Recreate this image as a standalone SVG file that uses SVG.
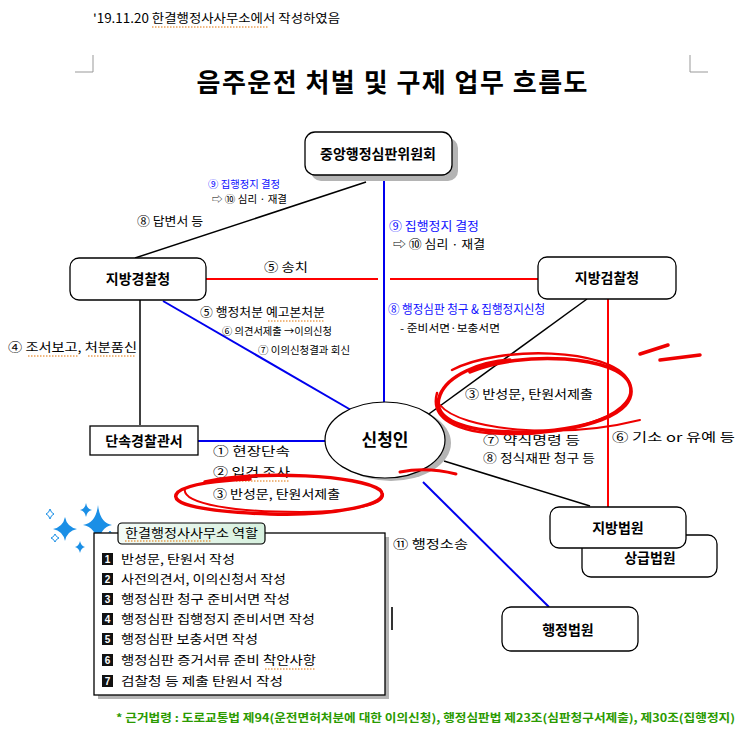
<svg xmlns="http://www.w3.org/2000/svg" width="744" height="744" viewBox="0 0 744 744">
<style>
text{font-family:"Noto Sans CJK KR","Noto Sans",sans-serif;fill:#000}
.t13{font-size:12.5px}
.t12{font-size:12px}
.t11{font-size:10.5px}
.nb{font-size:14px;font-weight:bold;text-anchor:middle}
.blue{fill:#1010ff}
.box{fill:#fff;stroke:#000;stroke-width:1.3}
.shadow{fill:#b4b4b4}
.bl{stroke:#0000ee;stroke-width:2;fill:none}
.rd{stroke:#ff0000;stroke-width:2;fill:none}
.bk{stroke:#000;stroke-width:1.5;fill:none}
.scr{stroke:#ee0000;fill:none;stroke-linecap:round}
.sq{stroke:#e07000;stroke-width:1;stroke-dasharray:1.5 1.5;fill:none}
.star{fill:#1a8fe6}
.num{fill:#111}
.numt{font-size:10px;fill:#fff;font-family:"Liberation Sans",sans-serif;font-weight:bold;text-anchor:middle}
</style>
<rect width="744" height="744" fill="#fff"/>

<!-- header -->
<text x="93" y="23" class="t13" textLength="247" lengthAdjust="spacingAndGlyphs">'19.11.20 한결행정사사무소에서 작성하였음</text>
<path class="sq" d="M152 27 H268"/>
<path d="M93 55 V72 H75 M690 55 V72 H708" stroke="#999" stroke-width="1" fill="none"/>

<text x="392" y="92" style="font-size:26px;font-weight:bold;text-anchor:middle" textLength="391" lengthAdjust="spacing">음주운전 처벌 및 구제 업무 흐름도</text>

<!-- connectors -->
<g id="connectors">
  <line class="bl" x1="384" y1="176" x2="384" y2="403"/>
  <line class="rd" x1="206" y1="279" x2="378" y2="279"/>
  <line class="rd" x1="390" y1="279" x2="538" y2="279"/>
  <line class="bk" x1="366" y1="182" x2="135" y2="258" stroke-width="1.2"/>
  <line class="bk" x1="140" y1="300" x2="140" y2="425" stroke-width="1.2"/>
  <line class="bl" x1="163" y1="301" x2="351" y2="410"/>
  <line class="bl" x1="198" y1="441" x2="326" y2="441"/>
  <line class="bk" x1="587" y1="299" x2="422" y2="419"/>
  <line class="rd" x1="608" y1="299" x2="608" y2="507"/>
  <line class="bk" x1="444" y1="461" x2="590" y2="506" stroke-width="1"/>
  <line class="bl" x1="423" y1="482" x2="549" y2="607"/>
</g>

<!-- nodes -->
<g id="node-central">
  <rect class="shadow" x="311" y="138" width="147" height="43" rx="10"/>
  <rect class="box" x="305" y="132" width="147" height="43" rx="10"/>
  <text x="378" y="159" class="nb">중앙행정심판위원회</text>
</g>
<g id="node-police">
  <rect class="box" x="70" y="258" width="136" height="42" rx="9"/>
  <text x="138" y="284" class="nb">지방경찰청</text>
</g>
<g id="node-prosecution">
  <rect class="box" x="538" y="257" width="138" height="42" rx="9"/>
  <text x="607" y="283" class="nb">지방검찰청</text>
</g>
<g id="node-station">
  <rect class="box" x="90" y="426" width="108" height="29"/>
  <text x="144" y="446" class="nb">단속경찰관서</text>
</g>
<g id="node-applicant">
  <ellipse class="shadow" cx="391" cy="443" rx="60" ry="38"/>
  <ellipse cx="385" cy="440" rx="60" ry="38" fill="#fff" stroke="#000" stroke-width="1.2"/>
  <text x="385" y="446" class="nb" style="font-size:17px">신청인</text>
</g>
<g id="node-high-court">
  <rect class="box" x="582" y="535" width="135" height="42" rx="9"/>
  <text x="650" y="563" class="nb">상급법원</text>
</g>
<g id="node-district-court">
  <rect class="box" x="550" y="507" width="136" height="41" rx="9"/>
  <text x="618" y="533" class="nb">지방법원</text>
</g>
<g id="node-admin-court">
  <rect class="box" x="502" y="607" width="136" height="44" rx="9"/>
  <text x="568" y="635" class="nb">행정법원</text>
</g>

<!-- labels -->
<g id="labels">
  <text x="208" y="188" class="t11 blue" textLength="72" lengthAdjust="spacingAndGlyphs">⑨ 집행정지 결정</text>
  <text x="212" y="203" class="t11" textLength="75" lengthAdjust="spacingAndGlyphs">⇨ ⑩ 심리 · 재결</text>
  <text x="137" y="226" class="t13" textLength="66" lengthAdjust="spacingAndGlyphs">⑧ 답변서 등</text>
  <text x="389" y="231" class="t12 blue" textLength="90" lengthAdjust="spacingAndGlyphs">⑨ 집행정지 결정</text>
  <text x="393" y="249" class="t12" textLength="92" lengthAdjust="spacingAndGlyphs">⇨ ⑩ 심리 · 재결</text>
  <text x="264" y="272" class="t13" textLength="44" lengthAdjust="spacingAndGlyphs">⑤ 송치</text>
  <text x="200" y="317" class="t13" textLength="125" lengthAdjust="spacingAndGlyphs">⑤ 행정처분 예고본처분</text>
  <path class="sq" d="M268 321 H325"/>
  <text x="222" y="335" class="t11" textLength="110" lengthAdjust="spacingAndGlyphs">⑥ 의견서제출 →이의신청</text>
  <text x="258" y="354" class="t11" textLength="92" lengthAdjust="spacingAndGlyphs">⑦ 이의신청결과 회신</text>
  <text x="8" y="352" class="t13" textLength="129" lengthAdjust="spacingAndGlyphs">④ 조서보고, 처분품신</text>
  <path class="sq" d="M28 356 H79 M88 356 H136"/>
  <text x="388" y="314" class="t13 blue" textLength="157" lengthAdjust="spacingAndGlyphs">⑧ 행정심판 청구 &amp; 집행정지신청</text>
  <text x="400" y="332" class="t11" textLength="100" lengthAdjust="spacingAndGlyphs">- 준비서면·보충서면</text>
  <text x="465" y="399" class="t13" textLength="128" lengthAdjust="spacingAndGlyphs">③ 반성문, 탄원서제출</text>
  <text x="483" y="445" class="t12" textLength="97" lengthAdjust="spacingAndGlyphs">⑦ 약식명령 등</text>
  <text x="483" y="463" class="t12" textLength="112" lengthAdjust="spacingAndGlyphs">⑧ 정식재판 청구 등</text>
  <text x="612" y="442" class="t13" textLength="123" lengthAdjust="spacingAndGlyphs">⑥ 기소 or 유예 등</text>
  <text x="213" y="456" class="t13" textLength="77" lengthAdjust="spacingAndGlyphs">① 현장단속</text>
  <text x="213" y="477" class="t13" textLength="77" lengthAdjust="spacingAndGlyphs">② 입건 조사</text>
  <path class="sq" d="M236 481 H290"/>
  <text x="213" y="499" class="t13" textLength="127" lengthAdjust="spacingAndGlyphs">③ 반성문, 탄원서제출</text>
  <text x="393" y="549" class="t13" textLength="75" lengthAdjust="spacingAndGlyphs">⑪ 행정소송</text>
</g>

<!-- cursor -->
<line x1="392" y1="607" x2="392" y2="630" stroke="#000" stroke-width="1.6"/>

<!-- red scribbles -->
<g id="scribbles">
  <path class="scr" stroke-width="3.5" d="M470 372 C520 350 620 355 630 385 C640 415 580 432 520 432 C465 432 430 420 440 395 C448 375 480 362 510 360"/>
  <path class="scr" stroke-width="2.5" d="M452 370 C500 345 610 348 628 380 C645 412 575 436 505 434 C455 433 430 418 437 393"/>
  <path class="scr" stroke-width="2" d="M440 405 C460 430 560 440 640 420"/>
  <path class="scr" stroke-width="3" d="M400 472 C420 468 440 470 456 474"/>
  <path class="scr" stroke-width="3.5" d="M640 354 L668 345"/>
  <path class="scr" stroke-width="3.5" d="M660 360 L700 355"/>
  <path class="scr" stroke-width="3.5" d="M205 482 C260 470 360 475 380 490 C395 505 330 516 270 514 C210 512 165 505 178 492 C188 484 220 480 250 479"/>
  <path class="scr" stroke-width="2" d="M185 488 C180 505 240 512 300 512 C350 512 385 505 383 494"/>
</g>

<!-- sparkles -->
<g id="sparkles">
  <path class="star" d="M98 505 Q100 523 112 525 Q100 527 98 545 Q96 527 83 525 Q96 523 98 505Z"/>
  <path class="star" d="M65 517 Q67 527 77 529 Q67 531 65 541 Q63 531 53 529 Q63 527 65 517Z"/>
  <path class="star" d="M86 503 Q87 509 92 510 Q87 511 86 517 Q85 511 80 510 Q85 509 86 503Z"/>
  <path class="star" d="M80 541 Q81 546 85 547 Q81 548 80 553 Q79 548 75 547 Q79 546 80 541Z"/>
  <path d="M50 509 Q51 513 54 514 Q51 515 50 519 Q49 515 46 514 Q49 513 50 509Z" fill="none" stroke="#1a8fe6" stroke-width="1"/>
  <path d="M55 534 Q56 537 59 538 Q56 539 55 542 Q54 539 51 538 Q54 537 55 534Z" fill="none" stroke="#1a8fe6" stroke-width="1"/>
  <path d="M110 531 Q111 534 114 535 Q111 536 110 539 Q109 536 106 535 Q109 534 110 531Z" fill="none" stroke="#1a8fe6" stroke-width="1"/>
</g>

<!-- role box -->
<g id="role-box">
  <rect class="shadow" x="98" y="537" width="291" height="162"/>
  <rect x="94" y="533" width="291" height="162" fill="#fff" stroke="#000" stroke-width="1.3"/>
  <defs>
    <linearGradient id="tabg" x1="0" y1="0" x2="1" y2="0">
      <stop offset="0" stop-color="#f4fbf6"/>
      <stop offset="1" stop-color="#d6f0de"/>
    </linearGradient>
  </defs>
  <rect x="118" y="523" width="147" height="21" rx="4" fill="url(#tabg)" stroke="#000" stroke-width="1.2"/>
  <text x="125" y="538" class="t13" textLength="133" lengthAdjust="spacingAndGlyphs">한결행정사사무소 역할</text>
  <path class="sq" d="M125 541 H212"/>
  <g>
    <rect class="num" x="102" y="553" width="11" height="12"/><text x="107.5" y="563" class="numt">1</text>
    <text x="121" y="564" class="t13" textLength="114" lengthAdjust="spacingAndGlyphs">반성문, 탄원서 작성</text>
    <rect class="num" x="102" y="573" width="11" height="12"/><text x="107.5" y="583" class="numt">2</text>
    <text x="121" y="584" class="t13" textLength="165" lengthAdjust="spacingAndGlyphs">사전의견서, 이의신청서 작성</text>
    <rect class="num" x="102" y="593" width="11" height="12"/><text x="107.5" y="603" class="numt">3</text>
    <text x="121" y="604" class="t13" textLength="169" lengthAdjust="spacingAndGlyphs">행정심판 청구 준비서면 작성</text>
    <rect class="num" x="102" y="613" width="11" height="12"/><text x="107.5" y="623" class="numt">4</text>
    <text x="121" y="624" class="t13" textLength="194" lengthAdjust="spacingAndGlyphs">행정심판 집행정지 준비서면 작성</text>
    <rect class="num" x="102" y="633" width="11" height="12"/><text x="107.5" y="643" class="numt">5</text>
    <text x="121" y="644" class="t13" textLength="137" lengthAdjust="spacingAndGlyphs">행정심판 보충서면 작성</text>
    <rect class="num" x="102" y="654" width="11" height="12"/><text x="107.5" y="664" class="numt">6</text>
    <text x="121" y="665" class="t13" textLength="195" lengthAdjust="spacingAndGlyphs">행정심판 증거서류 준비 착안사항</text>
    <path class="sq" d="M265 669 H316"/>
    <rect class="num" x="102" y="675" width="11" height="12"/><text x="107.5" y="685" class="numt">7</text>
    <text x="121" y="686" class="t13" textLength="162" lengthAdjust="spacingAndGlyphs">검찰청 등 제출 탄원서 작성</text>
  </g>
</g>

<!-- footer -->
<text x="116" y="722" style="font-size:11px;font-weight:bold;fill:#2a9a00" textLength="619" lengthAdjust="spacingAndGlyphs">*  근거법령 : 도로교통법 제94(운전면허처분에 대한 이의신청), 행정심판법 제23조(심판청구서제출), 제30조(집행정지)</text>
</svg>
